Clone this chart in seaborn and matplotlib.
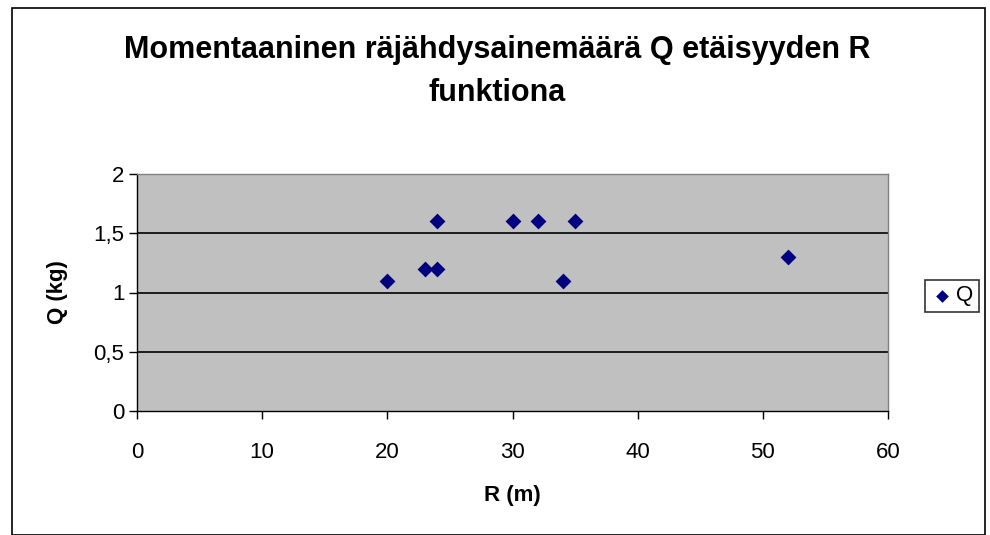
import matplotlib
matplotlib.use("Agg")
import matplotlib.pyplot as plt
import seaborn as sns
import pandas as pd
from matplotlib.patches import Rectangle

R_m = [20, 23, 24, 24, 30, 32, 34, 35, 52]
Q_kg = [1.1, 1.2, 1.2, 1.6, 1.6, 1.6, 1.1, 1.6, 1.3]
x_ticks = [0, 10, 20, 30, 40, 50, 60]
y_ticks = [0, 0.5, 1, 1.5, 2]
y_tick_labels = ["0", "0,5", "1", "1,5", "2"]

sns.set_style("white")
plt.rcParams['font.family'] = ['Liberation Sans', 'DejaVu Sans']
plt.rcParams.update({"text.color": "black", "axes.labelcolor": "black",
                     "xtick.color": "black", "ytick.color": "black"})

df = pd.DataFrame({"R": R_m, "Q": Q_kg})

fig = plt.figure(figsize=(9.9, 5.35), dpi=100)
ax = fig.add_axes([137/990, 1-411/535, (888-137)/990, (411-174)/535])

fig.patches.append(Rectangle((12/990, 0.0), (985-12)/990, 1-8/535, transform=fig.transFigure,
                             fill=False, edgecolor="black", linewidth=1.2, zorder=0))

ax.set_facecolor("#C0C0C0")
sns.scatterplot(data=df, x="R", y="Q", ax=ax, marker="D", s=65, color="#000080",
                edgecolor="#000080", linewidth=0, label="Q", zorder=3)

ax.set_xlim(0, 60)
ax.set_ylim(0, 2)
ax.set_xticks(x_ticks)
ax.set_xticklabels([str(t) for t in x_ticks], fontsize=16)
ax.set_yticks(y_ticks)
ax.set_yticklabels(y_tick_labels, fontsize=16)
for y in y_ticks[1:-1]:
    ax.axhline(y, color="black", linewidth=1.2, zorder=1)
for s in ax.spines.values():
    s.set_color("#808080")
    s.set_linewidth(1)
ax.spines["left"].set_color("black")
ax.spines["bottom"].set_color("black")
ax.tick_params(axis="both", direction="out", length=6, width=1, color="black",
               bottom=True, left=True)
ax.tick_params(axis="x", pad=16)
ax.tick_params(axis="y", pad=3)

ax.set_xlabel("R (m)", fontsize=16, fontweight="bold", labelpad=16)
ax.set_ylabel("Q (kg)", fontsize=16, fontweight="bold", labelpad=18)

fig.text(497/990, 1-50/535, "Momentaaninen räjähdysainemäärä Q etäisyyden R",
         ha="center", va="center", fontsize=22, fontweight="bold")
fig.text(497/990, 1-93/535, "funktiona", ha="center", va="center", fontsize=22, fontweight="bold")

leg = ax.legend(loc="center left", frameon=True,
                fontsize=16, handletextpad=0.15, borderpad=0.25, handlelength=1.0,
                fancybox=False, edgecolor="black", markerscale=0.8, borderaxespad=0)
leg.set_bbox_to_anchor((925/990, 1-296/535), transform=fig.transFigure)
leg.get_frame().set_linewidth(1.2)

fig.savefig("out.png", dpi=100)
